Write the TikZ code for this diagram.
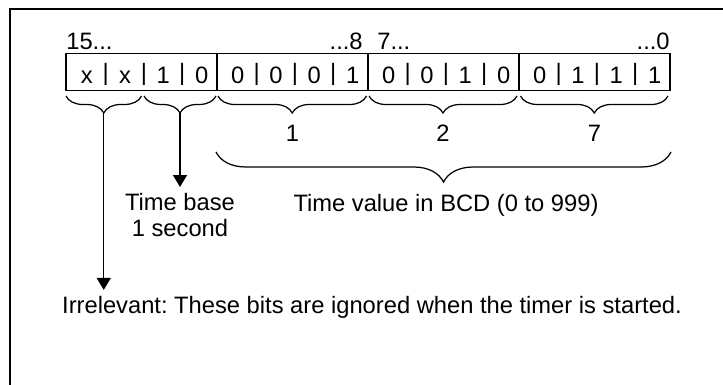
\documentclass[tikz,border=0pt]{standalone}
\usepackage{fontspec}
\setmainfont{Liberation Sans}
\usetikzlibrary{arrows.meta,decorations.pathreplacing,calc}
\frenchspacing

\tikzset{
    bitgroup/.style={draw, line width=0.7pt, minimum width=3.02cm, minimum height=0.754cm, inner sep=0pt},
    bittext/.style={anchor=base, inner sep=0pt},
    brc/.style={line width=0.7pt, decorate, decoration={brace, mirror, amplitude=#1}},
    pointer/.style={line width=0.7pt, -{Triangle[width=0.28cm, length=0.24cm]}},
}

\begin{document}
\begin{tikzpicture}[x=0.02cm, y=-0.02cm, font=\fontsize{13.5}{15}\selectfont]
    %%Background
    \useasboundingbox (0,0) rectangle (723,385);
    \draw[line width=0.8pt] (10,385) -- (10,9) -- (723,9);

    %% Word
    \foreach \g in {0,...,3}
    {
    \node[bitgroup] (g\g) at (141.5+151*\g,72) {};
    }
    \foreach \b [count=\i from 0] in {x,x,1,0,0,0,0,1,0,0,1,0,0,1,1,1}
    {
    \pgfmathsetmacro{\bx}{86.7+151*int(\i/4)+38.3*mod(\i,4)}
    \node[bittext] (bit\i) at (\bx,83.3) {\b};
    }
    \foreach \i in {0,...,15}
    {
    \pgfmathtruncatemacro{\pos}{mod(\i,4)}
    \ifnum\pos<3 \node[bittext] (bar\i) at ($(bit\i.base)+(19,-2.8)$) {|}; \fi
    }

    %% Bit numbers
    \node[anchor=base west, inner sep=0pt] (hi15) at (66,49.3) {15...};
    \node[anchor=base east, inner sep=0pt] (lo8) at (363,49.3) {...8};
    \node[anchor=base west, inner sep=0pt] (hi7) at (377,49.3) {7...};
    \node[anchor=base east, inner sep=0pt] (lo0) at (670,49.3) {...0};

    %% Braces
    \draw[brc=0.34cm] (66,96) to (141.5,96);
    \draw[brc=0.34cm] (144,96) to (216,96);
    \draw[brc=0.34cm] (218,96) to (366.5,96);
    \draw[brc=0.34cm] (369,96) to (517,96);
    \draw[brc=0.34cm] (520.5,96) to (668,96);
    \coordinate (tipA) at (103.75,113);
    \coordinate (tipB) at (180,113);

    \node (n1) at (292.5,133) {1};
    \node (n2) at (443,133) {2};
    \node (n7) at (594.5,133) {7};
    \draw[brc=0.6cm] (216,152) to (671,152);

    %% Labels
    \node[anchor=base] (tval) at (446,211.7) {Time value in BCD (0 to 999)};
    \node[anchor=north, align=center] (tbase) at (180,187) {Time base\\1 second};
    \node[anchor=base] (irr) at (372,313.3) {Irrelevant: These bits are ignored when the timer is started.};

    \draw[pointer] (tipB) to (tbase.north);
    \draw[pointer] (tipA) to (tipA |- irr.north);
\end{tikzpicture}
\end{document}
